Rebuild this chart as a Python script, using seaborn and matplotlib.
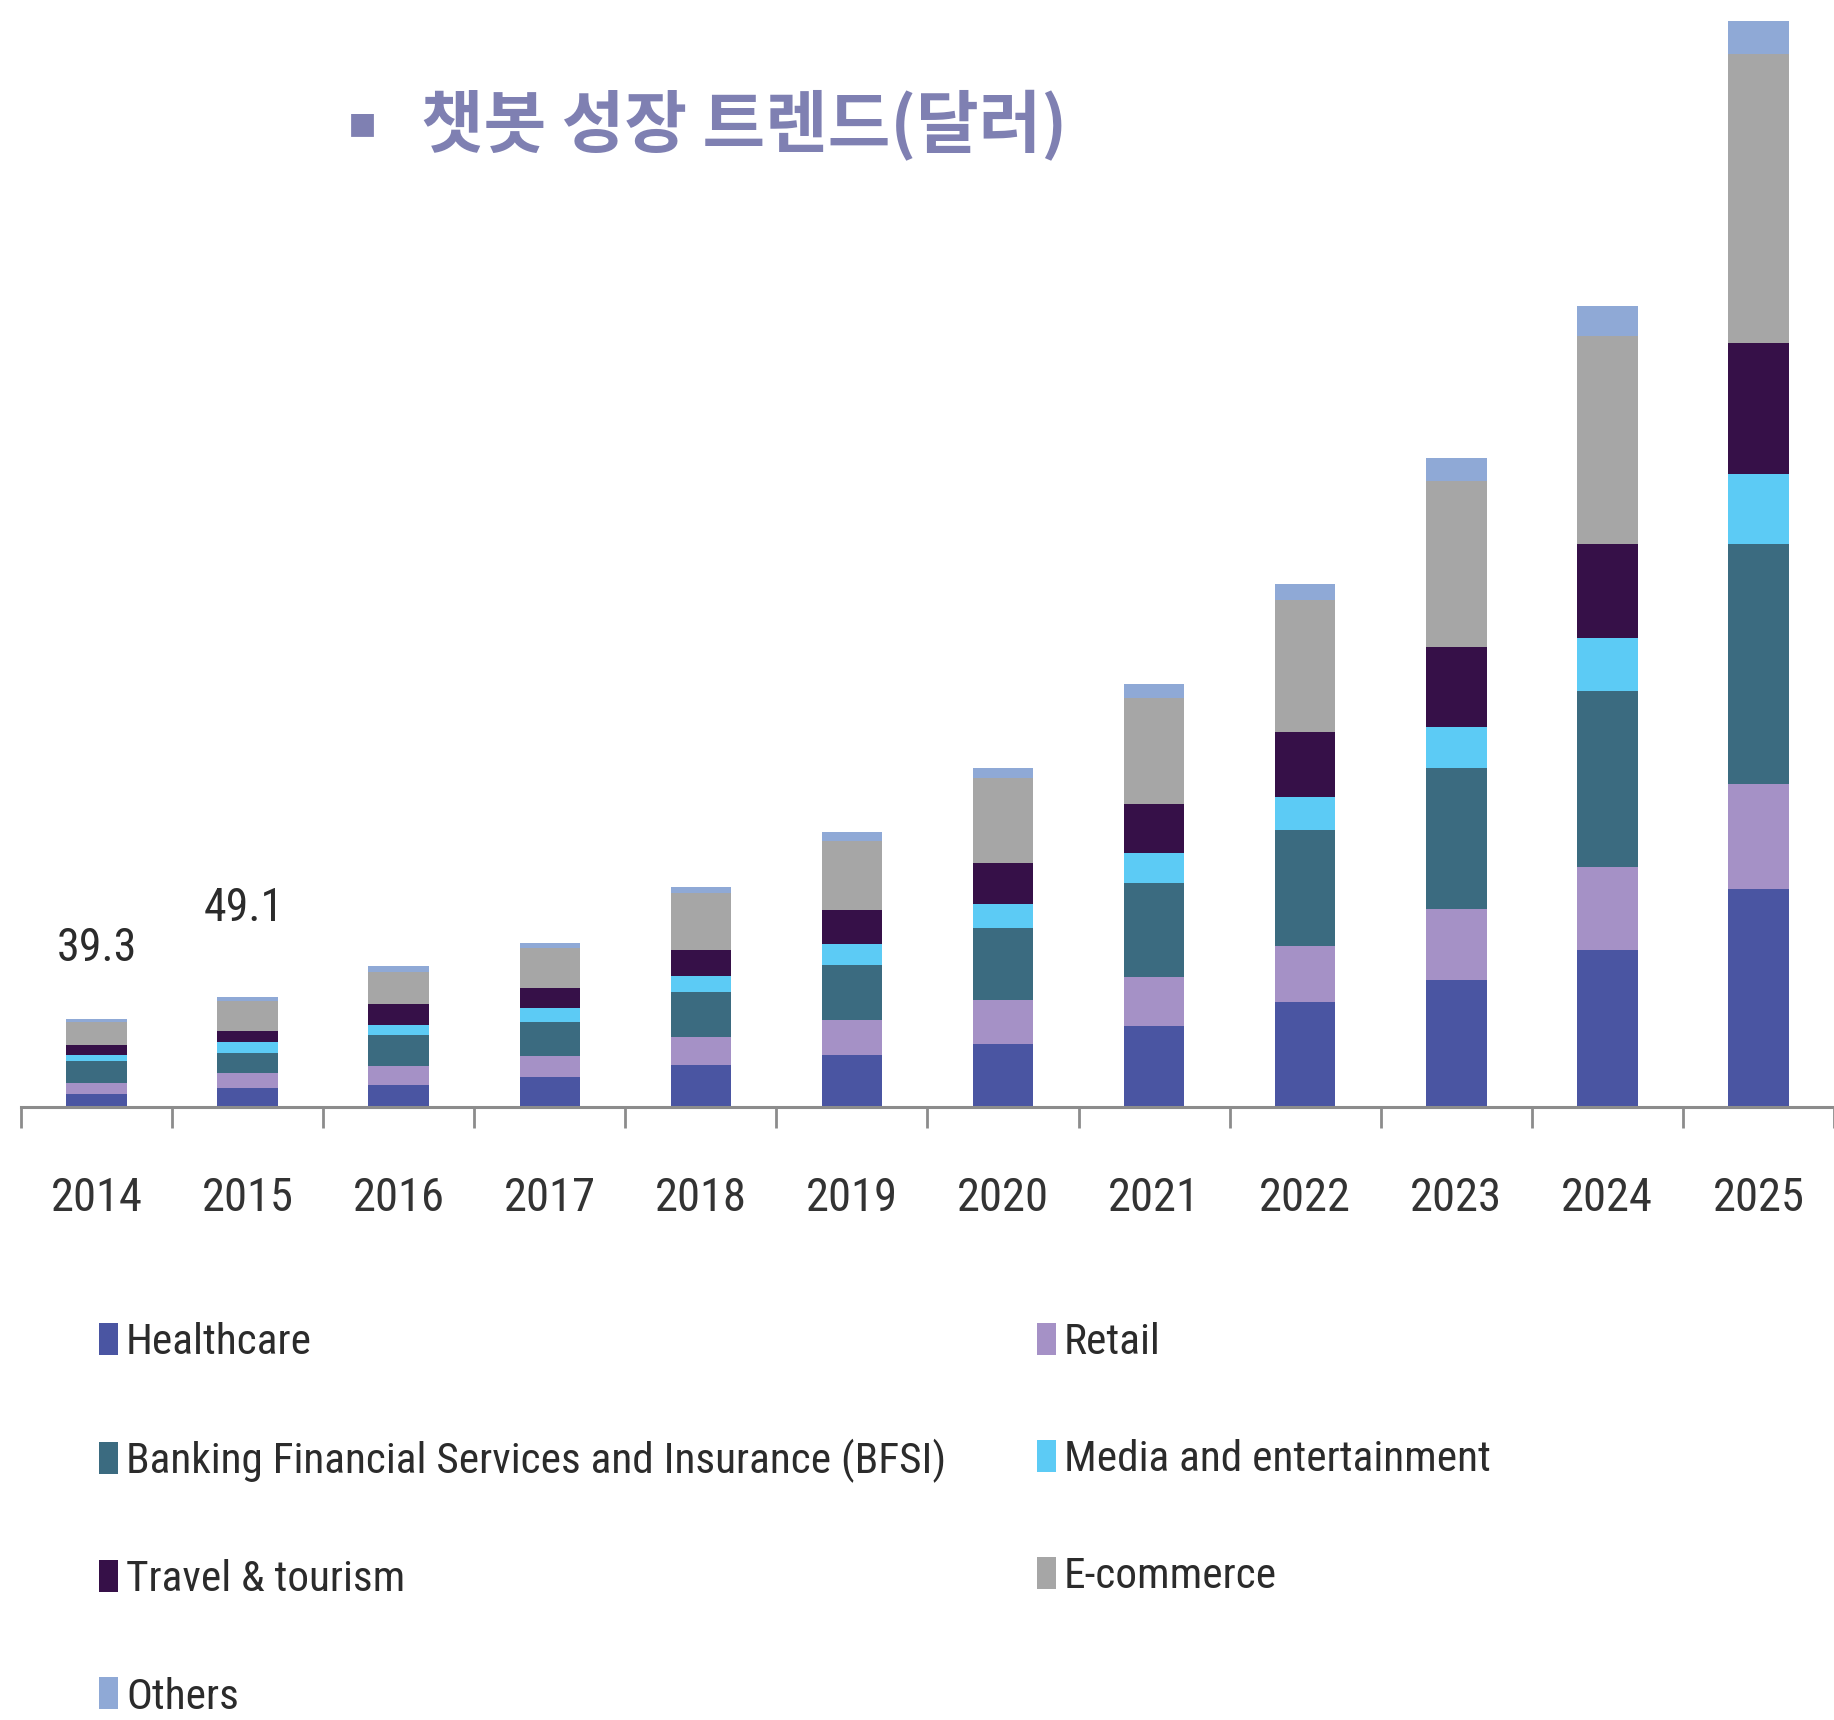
import numpy as np
import matplotlib.pyplot as plt
import seaborn as sns
from matplotlib import font_manager as fm
from matplotlib.patches import Patch

sns.set_style("white")
plt.rcParams['font.family'] = ['Liberation Sans', 'DejaVu Sans']

# 데이터 (그림에서 읽은 추정값)
years = ["2014", "2015", "2016", "2017", "2018", "2019",
         "2020", "2021", "2022", "2023", "2024", "2025"]
healthcare = [5.9, 8.5, 9.7, 13.4, 18.6, 23.0, 28.2, 36.1, 46.7, 56.4, 70.0, 97.2]
retail = [4.9, 6.5, 8.6, 9.2, 12.6, 15.6, 19.3, 21.8, 25.1, 31.7, 36.9, 46.8]
bfsi = [9.5, 8.9, 13.7, 15.3, 20.0, 24.5, 32.4, 41.9, 51.5, 62.8, 78.4, 106.9]
media = [2.9, 5.0, 4.7, 6.2, 7.0, 9.7, 10.7, 13.3, 14.9, 18.2, 23.6, 31.1]
travel = [4.2, 5.0, 9.3, 8.9, 11.9, 15.1, 18.1, 22.0, 28.6, 35.6, 41.8, 58.3]
ecommerce = [10.4, 13.2, 14.0, 17.8, 25.2, 30.5, 37.6, 47.0, 58.8, 73.9, 92.6, 128.6]
others = [1.5, 2.0, 3.0, 2.4, 2.7, 4.0, 4.5, 6.1, 7.5, 10.4, 13.6, 14.6]

segment_names = ["Healthcare", "Retail", "Banking Financial Services and Insurance (BFSI)",
                 "Media and entertainment", "Travel & tourism", "E-commerce", "Others"]
segment_colors = ["#4a55a2", "#a591c6", "#3b6b80", "#5ccbf5", "#361048", "#a6a6a6", "#8fa9d6"]

label_years = ["2014", "2015"]
label_texts = ["39.3", "49.1"]

series = np.array([healthcare, retail, bfsi, media, travel, ecommerce, others])
cum = np.cumsum(series, axis=0)


# 좁은 글꼴이 있으면 사용
def find_narrow_font():
    prefs = ["Liberation Sans Narrow", "Arial Narrow", "Roboto Condensed",
             "Open Sans Condensed", "Noto Sans Condensed", "DejaVu Sans Condensed"]
    fonts = [f for f in fm.fontManager.ttflist
             if f.style == "normal" and f.weight in (400, "normal", "regular")]
    for p in prefs:
        for f in fonts:
            if f.name == p:
                return fm.FontProperties(fname=f.fname)
    for f in fonts:
        if "Condensed" in f.name or "Narrow" in f.name or \
                f.stretch in ("condensed", "semi-condensed", "extra-condensed"):
            return fm.FontProperties(fname=f.fname)
    return fm.FontProperties(family="Liberation Sans")


base_prop = find_narrow_font()

W, H = 1834, 1720
fig = plt.figure(figsize=(W / 100, H / 100), dpi=100)
renderer = fig.canvas.get_renderer()


def fitted(s, target_px, max_size):
    p = base_prop.copy()
    p.set_size(100)
    t = fig.text(0, 0, s, fontproperties=p)
    w = t.get_window_extent(renderer).width
    t.remove()
    p.set_size(min(max_size, 100 * target_px / w))
    return p


ax = fig.add_axes([21 / W, 1 - 1107 / H, 1 - 21 / W, 1107 / H])

# 누적 막대: 위쪽 합계부터 그려서 아래 층이 덮어씀
for k in range(len(segment_names) - 1, -1, -1):
    sns.barplot(x=years, y=cum[k], color=segment_colors[k], saturation=1,
                width=0.4, linewidth=0, ax=ax)

ax.set_xlim(-0.5, 11.5)
ax.set_ylim(0, 493)
ax.set_xlabel("")
ax.set_ylabel("")
ax.set_yticks([])
for s in ["top", "right", "left"]:
    ax.spines[s].set_visible(False)
ax.spines["bottom"].set_color("#8c8c8c")
ax.spines["bottom"].set_linewidth(2.2)

year_prop = fitted("2014", 92, 50)
ax.set_xticks(range(len(years)))
ax.set_xticklabels(years, color="#333333")
for lab in ax.get_xticklabels():
    lab.set_fontproperties(year_prop)
ax.set_xticks(np.arange(-0.5, 12, 1), minor=True)
ax.tick_params(axis="x", which="major", bottom=True, length=0, pad=50)
ax.tick_params(axis="x", which="minor", bottom=True, length=15, width=2,
               color="#8c8c8c", direction="out")

# 합계 라벨
value_prop = fitted("39.3", 80, 42)
label_offsets = [(0, 51), (-3, 64)]
for y, t, off in zip(label_years, label_texts, label_offsets):
    i = years.index(y)
    ax.annotate(t, (i, cum[-1][i]), xytext=off, textcoords="offset points",
                ha="center", va="center", fontproperties=value_prop, color="#2b2b2b")

# 제목
title_color = "#7f80b2"
fig.text(362 / W, 1 - 124 / H, "▪", fontsize=33, color=title_color,
         family="DejaVu Sans", ha="center", va="center")
fig.text(421 / W, 1 - 126 / H, "챗봇 성장 트렌드(달러)", fontsize=49, color=title_color,
         fontweight="bold", family=["Noto Sans CJK KR", "DejaVu Sans"],
         ha="left", va="center")

# 범례 (두 열)
leg_prop = fitted(segment_names[2], 820, 40)
fpx = leg_prop.get_size_in_points() * 100 / 72
handles = [Patch(facecolor=c, edgecolor="none") for c in segment_colors]
left_idx = [0, 2, 4, 6]
right_idx = [1, 3, 5]
common = dict(frameon=False, prop=leg_prop, handlelength=19 / fpx, handleheight=33 / fpx,
              handletextpad=8 / fpx, labelspacing=(116 - 0.92 * fpx) / fpx,
              borderpad=0, borderaxespad=0, loc="upper left")
top_y = 1339 - 0.4 * fpx
leg1 = fig.legend([handles[i] for i in left_idx], [segment_names[i] for i in left_idx],
                  bbox_to_anchor=(99 / W, 1 - top_y / H), **common)
leg2 = fig.legend([handles[i] for i in right_idx], [segment_names[i] for i in right_idx],
                  bbox_to_anchor=(1037 / W, 1 - top_y / H), **common)
for leg in (leg1, leg2):
    for t in leg.get_texts():
        t.set_color("#2b2b2b")

fig.savefig("out.png", dpi=100)
